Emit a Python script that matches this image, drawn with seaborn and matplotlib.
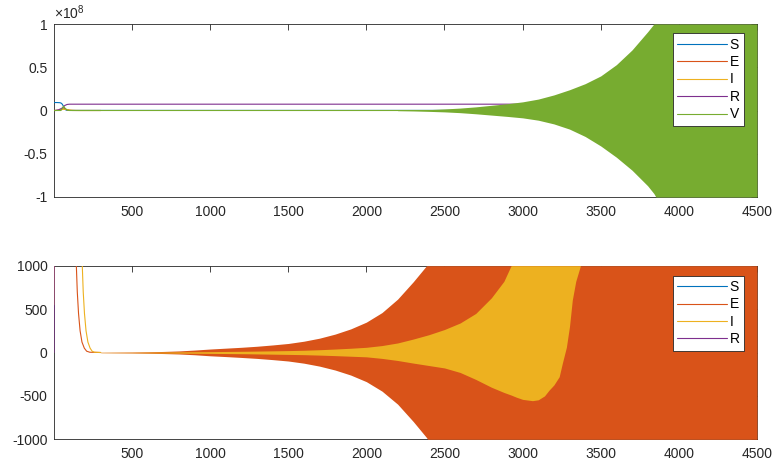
import numpy as np
import pandas as pd
import matplotlib
matplotlib.use("Agg")
import matplotlib.pyplot as plt
import seaborn as sns

# ------------------------------------------------------------------ data
# colours (MATLAB default order)
col_S = "#0072BD"
col_E = "#D95319"
col_I = "#EDB120"
col_R = "#7E2F8E"
col_V = "#77AC30"

top_labels = ["S", "E", "I", "R", "V"]
bottom_labels = ["S", "E", "I", "R"]

# ---- top panel: raw values (plotted in units of 1e8)
S_t = [1, 20, 40, 50, 60, 66, 72, 80, 100, 4500]
S_v = [9.2e6, 9.2e6, 9.0e6, 8.2e6, 5.5e6, 3.0e6, 1.2e6, 4.0e5, 1.0e5, 1.0e5]

E_t = [1, 30, 45, 55, 62, 70, 85, 100, 120, 144, 150, 158, 168, 180, 195, 210, 230, 300]
E_v = [2.0e4, 2.0e5, 1.0e6, 1.8e6, 2.0e6, 1.6e6, 8.0e5, 2.0e5, 2.0e4, 1000, 700, 450, 250, 120, 50, 15, 3, 0]

I_t = [1, 3, 10, 30, 50, 65, 75, 90, 110, 140, 170, 182, 188, 196, 206, 218, 232, 245, 260, 300]
I_v = [550, 1500, 1.0e4, 2.0e5, 1.0e6, 1.5e6, 1.4e6, 9.0e5, 3.0e5, 5.0e4, 5000, 1000, 700, 450, 250, 120, 50, 15, 3, 0]

R_t = [1, 3, 10, 30, 50, 60, 70, 85, 100, 4500]
R_v = [0, 2000, 5.0e4, 8.0e5, 2.5e6, 4.0e6, 5.8e6, 7.0e6, 7.3e6, 7.3e6]

V_t = [1, 45, 55, 62, 70, 85, 100, 2200, 4500]
V_v = [0, 0, 2.5e6, 5.0e6, 3.0e6, 5.0e5, 0, 0, 0]

# envelope of the fast oscillation of V (top panel)
V_env_t = [2200, 2300, 2400, 2500, 2600, 2700, 2800, 2900, 3000, 3100, 3200, 3300,
           3400, 3500, 3600, 3700, 3800, 3840, 3853, 4500]
V_env_hi = [0.2e6, 0.5e6, 1.0e6, 1.8e6, 2.8e6, 4.2e6, 6.0e6, 7.8e6, 10e6, 13.2e6, 18e6, 24e6,
            31e6, 40e6, 53e6, 70e6, 91e6, 100e6, 100e6, 100e6]
V_env_lo = [-0.2e6, -0.5e6, -1.0e6, -1.6e6, -2.5e6, -3.8e6, -5.3e6, -6.8e6, -8.5e6, -11.2e6, -15.5e6, -21.5e6,
            -30e6, -41e6, -54e6, -69e6, -87e6, -96e6, -100e6, -100e6]

# envelope of the fast oscillation of E (bottom panel)
E_env_t = [300, 500, 600, 700, 800, 900, 1000, 1100, 1200, 1300, 1400, 1500, 1600, 1700,
           1800, 1900, 2000, 2100, 2200, 2300, 2385, 2392, 4500]
E_env_hi = [2, 5, 8, 12, 18, 28, 40, 50, 60, 72, 87, 104, 130, 165,
            212, 272, 350, 460, 615, 815, 1000, 1000, 1000]
E_env_lo = [-2, -5, -8, -12, -17, -26, -38, -47, -57, -68, -82, -98, -123, -157,
            -202, -260, -336, -445, -595, -795, -980, -1000, -1000]

# envelope of the fast oscillation of I (bottom panel)
I_env_t = [300, 500, 1000, 1250, 1500, 1600, 1700, 1800, 1900, 2000, 2100, 2200, 2300,
           2400, 2500, 2600, 2700, 2800, 2880, 2926, 2960, 3000, 3063, 3100, 3140,
           3170, 3200, 3234, 3254, 3280, 3300, 3318, 3340, 3370]
I_env_hi = [2, 3, 10, 15, 22, 26, 32, 40, 49, 60, 80, 110, 155,
            205, 265, 340, 450, 630, 820, 1000, 1000, 1000, 1000, 1000, 1000,
            1000, 1000, 1000, 1000, 1000, 1000, 1000, 1000, 1000]
I_env_lo = [-2, -3, -10, -15, -22, -25, -30, -36, -43, -50, -68, -92, -122,
            -150, -178, -230, -310, -400, -460, -490, -515, -540, -555, -545, -500,
            -432, -374, -279, -125, 60, 300, 605, 820, 1000]

top_yticks = [-1, -0.5, 0, 0.5, 1]
top_yticklabels = ["-1", "-0.5", "0", "0.5", "1"]
bottom_yticks = [-1000, -500, 0, 500, 1000]
bottom_yticklabels = ["-1000", "-500", "0", "500", "1000"]
xticks = [500, 1000, 1500, 2000, 2500, 3000, 3500, 4000, 4500]
xticklabels = ["500", "1000", "1500", "2000", "2500", "3000", "3500", "4000", "4500"]
top_scale = 1e8

# ------------------------------------------------------------------ style
sns.set_style("white")
plt.rcParams["font.family"] = ["Liberation Sans", "DejaVu Sans"]
plt.rcParams["axes.unicode_minus"] = False
plt.rcParams["mathtext.fontset"] = "custom"
plt.rcParams["mathtext.rm"] = "Liberation Sans"

TXT = "#262626"
LW = 0.8

fig = plt.figure(figsize=(7.75, 4.66), dpi=100)
W, H = 775, 466
ax1 = fig.add_axes([54 / W, 1 - 197 / H, 703 / W, 173 / H])
ax2 = fig.add_axes([54 / W, 1 - 439.3 / H, 703 / W, 173.6 / H])


def line(ax, t, v, color, label, scale=1.0):
    sns.lineplot(x=np.asarray(t, float), y=np.asarray(v, float) / scale, ax=ax,
                 color=color, lw=LW, label=label, zorder=2, sort=False)


# top panel
line(ax1, S_t, S_v, col_S, "S", top_scale)
line(ax1, E_t, E_v, col_E, "E", top_scale)
line(ax1, I_t, I_v, col_I, "I", top_scale)
line(ax1, R_t, R_v, col_R, "R", top_scale)
line(ax1, V_t, V_v, col_V, "V", top_scale)
ax1.fill_between(np.asarray(V_env_t, float), np.asarray(V_env_lo) / top_scale,
                 np.asarray(V_env_hi) / top_scale, color=col_V, lw=0, zorder=2)

# bottom panel
line(ax2, S_t, S_v, col_S, "S")
line(ax2, E_t, E_v, col_E, "E")
ax2.fill_between(np.asarray(E_env_t, float), E_env_lo, E_env_hi, color=col_E, lw=0, zorder=2)
line(ax2, I_t, I_v, col_I, "I")
ax2.fill_between(np.asarray(I_env_t, float), I_env_lo, I_env_hi, color=col_I, lw=0, zorder=2)
line(ax2, R_t, R_v, col_R, "R")

for ax, yt, ytl, ylim in [(ax1, top_yticks, top_yticklabels, (-1, 1)),
                          (ax2, bottom_yticks, bottom_yticklabels, (-1000, 1000))]:
    ax.set_xlim(1, 4500)
    ax.set_ylim(*ylim)
    ax.set_xticks(xticks)
    ax.set_xticklabels(xticklabels)
    ax.set_yticks(yt)
    ax.set_yticklabels(ytl)
    ax.set_xlabel("")
    ax.set_ylabel("")
    ax.tick_params(direction="in", length=4.5, width=0.6, colors=TXT, labelsize=10,
                   top=True, right=True, labelcolor=TXT)
    ax.tick_params(axis="x", pad=5.5)
    ax.tick_params(axis="y", pad=4.5)
    ax.set_axisbelow(True)
    for sp in ax.spines.values():
        sp.set_visible(True)
        sp.set_color(TXT)
        sp.set_linewidth(0.6)
        sp.set_zorder(0.5)
    ax.set_facecolor("white")

ax1.text(0.0, 1.012, r"$\times10^{8}$", transform=ax1.transAxes, ha="left", va="bottom",
         fontsize=10, color=TXT)

leg_kw = dict(loc="upper right", frameon=True, fancybox=False, framealpha=1,
              edgecolor=TXT, fontsize=10, handlelength=3.6, handletextpad=0.2,
              borderpad=0.3, labelspacing=0.25, borderaxespad=0)
h1, l1 = ax1.get_legend_handles_labels()
lg1 = ax1.legend(h1, l1, bbox_to_anchor=(0.9815, 0.946), **leg_kw)
h2, l2 = ax2.get_legend_handles_labels()
lg2 = ax2.legend(h2, l2, bbox_to_anchor=(0.9815, 0.942), **leg_kw)
for lg in (lg1, lg2):
    lg.get_frame().set_linewidth(0.6)
    lg.set_zorder(10)
    for t in lg.get_texts():
        t.set_color("black")

fig.savefig("out.png", dpi=100, facecolor="white")
